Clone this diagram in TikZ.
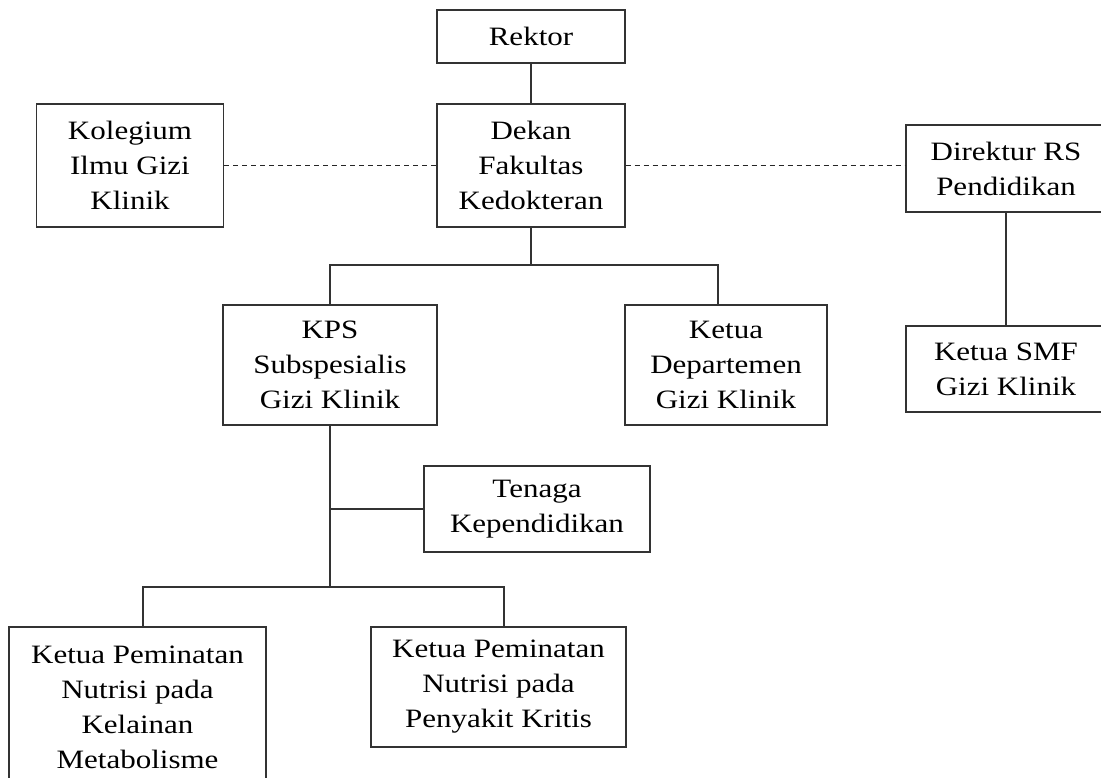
\documentclass[tikz,border=0pt]{standalone}
\usepackage{fontspec}
\setmainfont{Liberation Serif}[FakeStretch=1.17]
\usepackage{tikz}
\usetikzlibrary{calc}

\begin{document}
\begin{tikzpicture}[x=1pt,y=-1pt,
  unit/.style={draw=black!80, line width=1.3pt, align=center, inner sep=0pt,
    font=\fontsize{26.5}{35}\selectfont},
  link/.style={draw=black!80, line width=1.3pt},
  coord/.style={draw=black!85, line width=1.6pt, dash pattern=on 5pt off 4pt}]
  \useasboundingbox (0,0) rectangle (1101,777);

  % Top of the chart
  \node[unit, minimum width=188, minimum height=53] (rektor) at (531,36.5) {Rektor};
  \node[unit, minimum width=188, minimum height=123] (dekan) at (531,165.5) {Dekan\\Fakultas\\Kedokteran};
  \node[unit, minimum width=187, minimum height=123] (kolegium) at (130,165.5) {Kolegium\\Ilmu Gizi\\Klinik};
  \node[unit, minimum width=200, minimum height=87] (direktur) at (1006,168.5) {Direktur RS\\Pendidikan};

  % Second level
  \node[unit, minimum width=214, minimum height=120] (kps) at (330,365) {KPS\\Subspesialis\\Gizi Klinik};
  \node[unit, minimum width=202, minimum height=120] (departemen) at (726,365) {Ketua\\Departemen\\Gizi Klinik};
  \node[unit, minimum width=200, minimum height=86] (smf) at (1006,369) {Ketua SMF\\Gizi Klinik};
  \node[unit, minimum width=226, minimum height=86] (tenaga) at (537,509) {Tenaga\\Kependidikan};

  % Peminatan
  \node[unit, minimum width=257, minimum height=160] (metabolik) at (137.5,707) {Ketua Peminatan\\Nutrisi pada\\Kelainan\\Metabolisme};
  \node[unit, minimum width=255, minimum height=120] (kritis) at (498.5,687) {Ketua Peminatan\\Nutrisi pada\\Penyakit Kritis};

  % Bus points
  \coordinate (b1) at (531,265);
  \coordinate (b2) at (330,587);

  \draw[link] (rektor) -- (dekan);
  \draw[link] (dekan) -- (b1);
  \draw[link] (kps.north) |- (b1) -| (718,305);
  \draw[link] (direktur) -- (smf);
  \draw[link] (kps) -- (b2);
  \draw[link] (kps |- tenaga) -- (tenaga.west);
  \draw[link] (143,627) |- (b2) -| (504,627);

  % Coordination lines
  \draw[coord] (kolegium.east) -- (dekan.west);
  \draw[coord] (dekan.east) -- (dekan.east -| direktur.west);
\end{tikzpicture}
\end{document}
